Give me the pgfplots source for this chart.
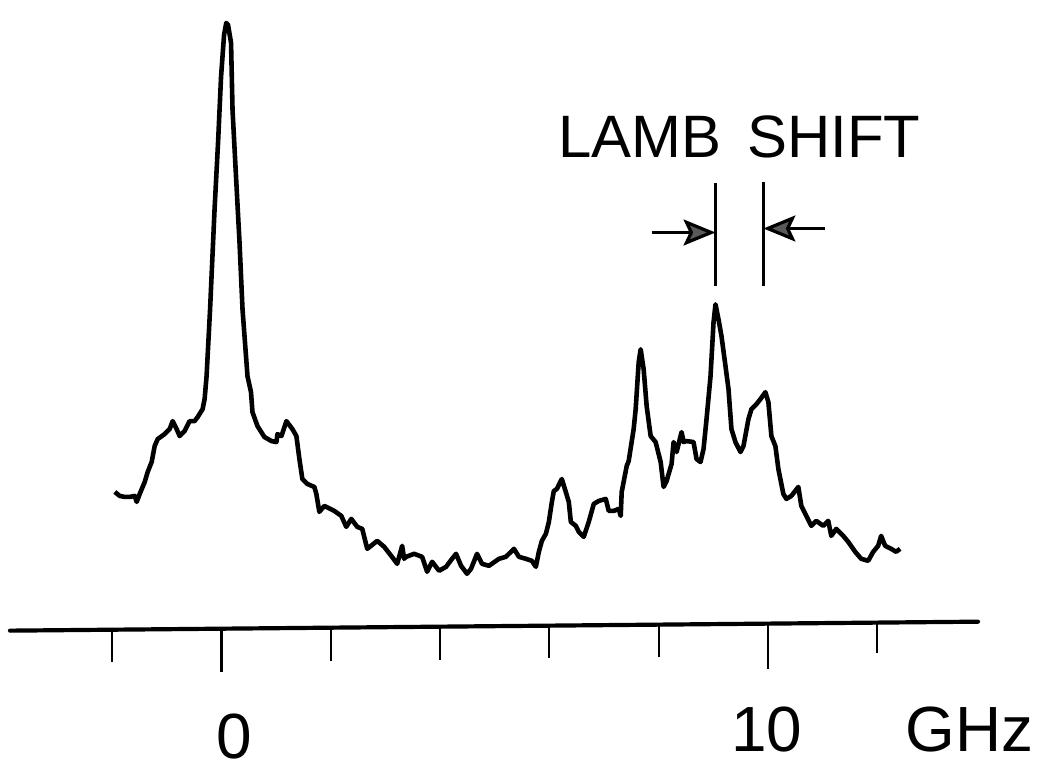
\documentclass[border=0pt]{standalone}
\usepackage{pgfplots}
\pgfplotsset{compat=1.18}
\usepackage{pgfplotstable}
\usepackage{fontspec}
\setmainfont{Liberation Sans}
\usetikzlibrary{arrows.meta}

% Spectrum: frequency offset (GHz) vs. signal (arb. units)
\pgfplotstableread{
f       s
-1.954  139
-1.863  135
-1.772  134
-1.680  134
-1.589  135
-1.553  129
-1.498  137
-1.406  149
-1.352  159
-1.279  169
-1.224  185
-1.169  192
-1.041  197
-0.950  202
-0.895  210
-0.822  202
-0.767  195
-0.676  200
-0.584  210
-0.493  210
-0.438  214
-0.347  222
-0.310  232
-0.274  255
-0.210  322
-0.128  422
-0.064  489
-0.009  555
0.046   597
0.086   609
0.119   607
0.174   589
0.201   522
0.265   455
0.329   389
0.384   322
0.475   255
0.539   239
0.566   219
0.658   205
0.785   194
0.913   190
1.005   189
1.023   197
1.096   195
1.187   210
1.297   202
1.370   195
1.425   172
1.479   152
1.571   147
1.699   144
1.735   137
1.790   119
1.881   125
2.064   120
2.192   115
2.283   104
2.374   112
2.484   104
2.575   102
2.667   82
2.849   90
2.977   84
3.105   75
3.215   67
3.306   85
3.342   72
3.379   74
3.525   77
3.671   74
3.763   59
3.854   69
3.982   60
4.110   64
4.219   72
4.292   77
4.384   65
4.493   57
4.566   62
4.676   77
4.767   67
4.895   65
5.078   72
5.205   74
5.352   82
5.443   74
5.571   72
5.680   70
5.753   64
5.808   79
5.863   90
5.936   97
5.991   109
6.046   129
6.082   140
6.137   142
6.228   152
6.301   139
6.356   129
6.393   109
6.484   105
6.539   99
6.630   94
6.721   109
6.813   127
6.904   130
7.032   132
7.087   120
7.178   120
7.269   122
7.306   115
7.324   139
7.416   165
7.452   170
7.543   202
7.580   222
7.635   269
7.671   282
7.726   262
7.781   225
7.854   195
7.945   189
8.037   169
8.091   144
8.146   150
8.237   167
8.274   189
8.329   179
8.420   199
8.457   189
8.511   190
8.639   189
8.694   172
8.767   169
8.822   182
8.877   212
8.950   255
9.005   309
9.041   327
9.096   312
9.151   295
9.224   265
9.279   242
9.333   202
9.406   189
9.498   179
9.553   185
9.644   212
9.699   222
9.790   227
9.863   232
9.954   239
10.009  229
10.064  195
10.137  185
10.192  162
10.228  152
10.283  137
10.338  132
10.429  135
10.557  144
10.612  125
10.703  115
10.795  105
10.886  110
11.014  105
11.105  110
11.160  95
11.251  102
11.379  95
11.470  89
11.598  79
11.708  72
11.836  70
11.927  79
12.018  85
12.073  95
12.146  85
12.256  82
12.347  79
12.420  82
}\spectrum

\begin{document}
\begin{tikzpicture}
\begin{axis}[
  scale only axis,
  width=520pt, height=388pt,
  xmin=-4.055, xmax=14.940,
  ymin=-144, ymax=632,
  hide axis,
  clip=false,
]
% frame of the picture
\path (rel axis cs:0,0) rectangle (rel axis cs:1,1);

% frequency axis, ticks every 2 GHz
\addplot[black, line width=2.1pt, line cap=round] coordinates {(-3.872,0) (13.845,9)};
\addplot[black, line width=1.1pt] coordinates {(-2,0.95) (-2,-31)};
\addplot[black, line width=1.1pt] coordinates {(0,1.97) (0,-41)};
\addplot[black, line width=1.1pt] coordinates {(2,2.98) (2,-30)};
\addplot[black, line width=1.1pt] coordinates {(4,4.0) (4,-29)};
\addplot[black, line width=1.1pt] coordinates {(6,5.0) (6,-27)};
\addplot[black, line width=1.1pt] coordinates {(8,6.03) (8,-26)};
\addplot[black, line width=1.1pt] coordinates {(10,7.05) (10,-38)};
\addplot[black, line width=1.1pt] coordinates {(12,8.06) (12,-22)};

\node[anchor=base, font=\fontsize{32}{38}\selectfont] at (axis cs:0.237,-128) {0};
\node[anchor=base, font=\fontsize{32}{38}\selectfont] at (axis cs:9.98,-121) {10};
\node[anchor=base, font=\fontsize{32}{38}\selectfont] at (axis cs:13.69,-121) {GHz};

% measured spectrum
\addplot[black, line width=2.3pt, line join=round] table[x=f, y=s] {\spectrum};

% Lamb shift marker
\draw[black, line width=1.6pt] (axis cs:9.041,449) -- (axis cs:9.041,345);
\draw[black, line width=1.6pt] (axis cs:9.918,450) -- (axis cs:9.918,345);
\draw[black, line width=1.6pt,
  -{Stealth[length=16pt, width=13pt, inset=3pt, fill=black!65]}]
  (axis cs:7.872,399) -- (axis cs:9.041,399);
\draw[black, line width=1.6pt,
  -{Stealth[length=16pt, width=13pt, inset=3pt, fill=black!65]}]
  (axis cs:11.050,403) -- (axis cs:9.918,403);
\node[anchor=base, font=\fontsize{30}{36}\selectfont]
  at (axis cs:9.48,474) {LAMB\hspace{13pt}SHIFT};
\end{axis}
\end{tikzpicture}
\end{document}
